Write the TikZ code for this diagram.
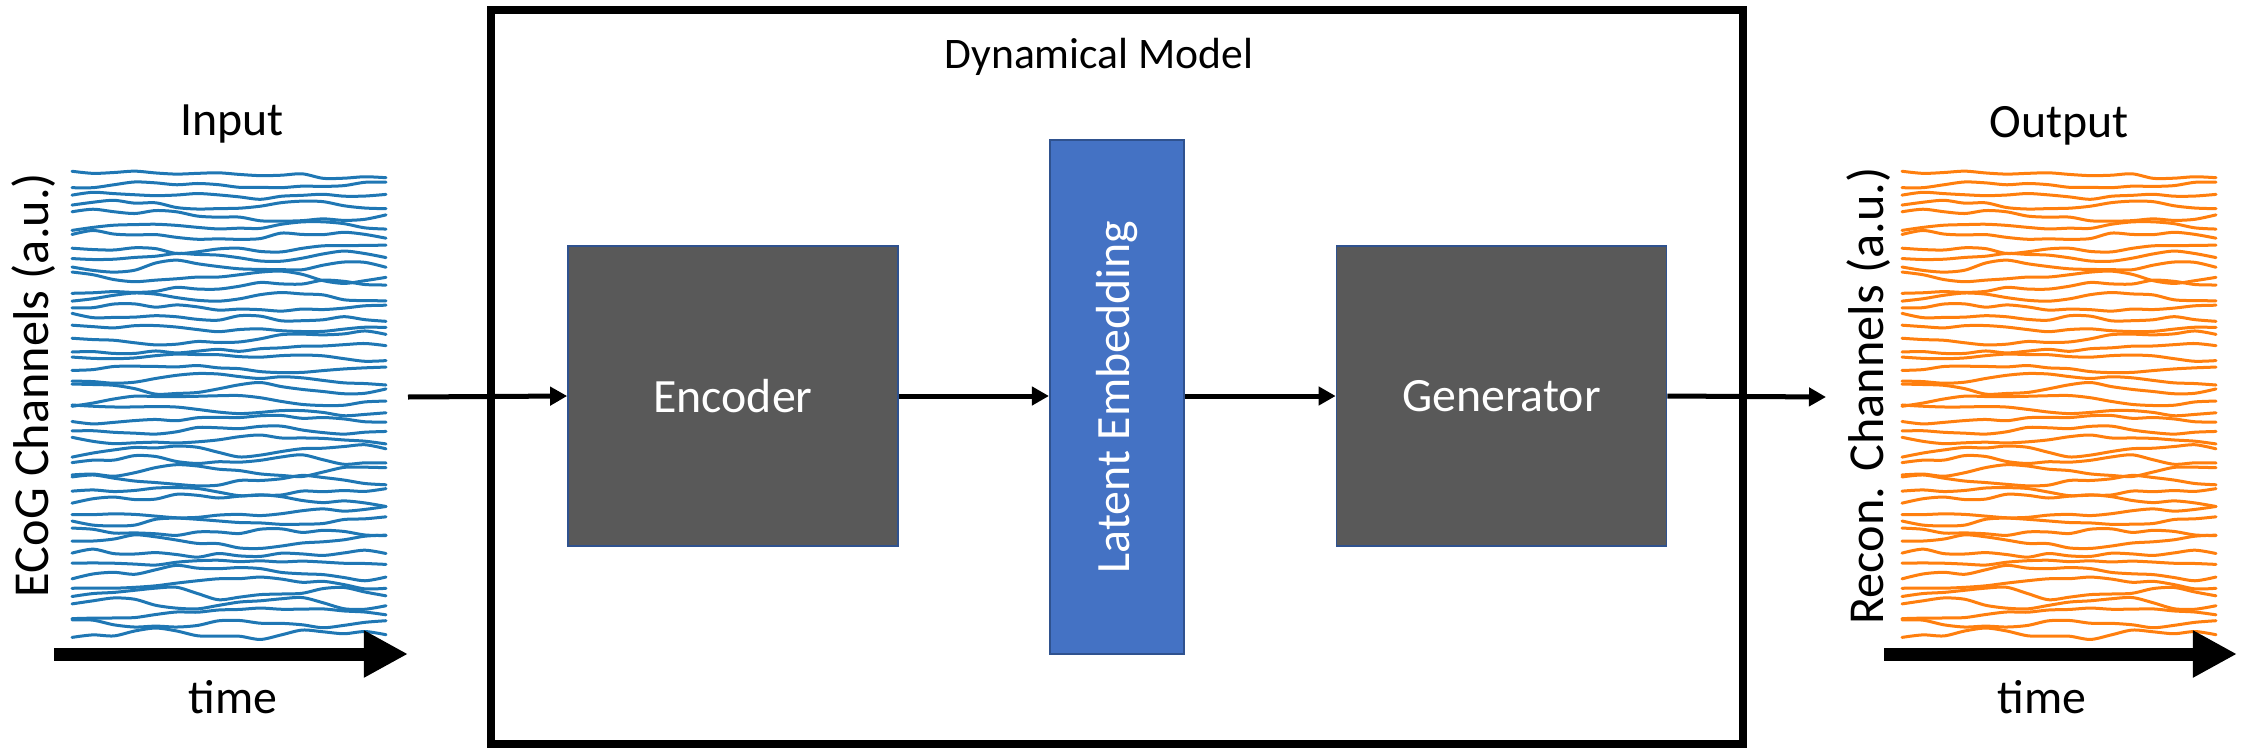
\documentclass[tikz,border=0pt]{standalone}
\usepackage{fontspec}
\setmainfont{Carlito}
\usetikzlibrary{arrows.meta}
\definecolor{ecogblue}{HTML}{1F77B4}
\definecolor{reconorange}{HTML}{FF7F0E}
\definecolor{boxgray}{HTML}{595959}
\definecolor{latentblue}{HTML}{4472C4}
\definecolor{edgeblue}{HTML}{2F528F}

% One panel of stacked channel traces: #1 left x, #2 right x, #3 colour
\newcommand\tracepanel[3]{%
  \pgfmathsetseed{11}%
  \foreach \i in {0,...,45} {
    \pgfmathsetmacro\yb{175+\i*10.2}
    \pgfmathsetmacro\pha{360*rnd}
    \pgfmathsetmacro\phb{360*rnd}
    \pgfmathsetmacro\ama{1.5+4.5*rnd}
    \pgfmathsetmacro\amb{0.5+1.8*rnd}
    \pgfmathsetmacro\fra{0.5+1.5*rnd}
    \pgfmathsetmacro\frb{2.5+2.5*rnd}
    \draw[trace, #3] plot[smooth, domain=#1:#2, samples=16]
      (\x, {\yb + \ama*sin(\fra*360*((\x-#1)/(#2-#1)) + \pha)
               + \amb*sin(\frb*360*((\x-#1)/(#2-#1)) + \phb) + 1.2*rand});
  }
}

\begin{document}
\begin{tikzpicture}[x=0.01cm, y=-0.01cm,
  txt/.style={font=\fontsize{13.6}{16}\selectfont},
  sidetxt/.style={font=\fontsize{14.3}{17}\selectfont, rotate=90},
  block/.style={draw=edgeblue, line width=0.015cm, fill=boxgray, text=white, txt,
    minimum width=3.3cm, minimum height=3cm, inner sep=0pt},
  latentbox/.style={draw=edgeblue, line width=0.02cm, fill=latentblue, text=white, txt,
    minimum width=1.34cm, minimum height=5.14cm, inner sep=0pt},
  link/.style={line width=0.05cm, -{Triangle[length=0.17cm,width=0.18cm]}},
  timearrow/.style={line width=0.13cm, -{Triangle[length=0.44cm,width=0.44cm]}},
  trace/.style={line width=0.03cm, line join=round, line cap=round},
]
\useasboundingbox (0,0) rectangle (2244,748);

% enclosing model frame
\node[draw, line width=0.08cm, minimum width=12.515cm, minimum height=7.34cm, inner sep=0pt]
  (dm) at (1116.75,377) {};
\node[font=\fontsize{12.4}{15}\selectfont] (dmlab) at (1099,57) {Dynamical Model};

% model blocks
\node[block] (enc) at (733,396) {Encoder};
\node[latentbox] (lat) at (1117,397) {\rotatebox{90}{Latent Embedding}};
\node[block] (gen) at (1501.5,396) {Generator};

% signal panels
\tracepanel{72}{386}{ecogblue}
\tracepanel{1902}{2216}{reconorange}

% panel labels
\node[txt] (inlab) at (232,124) {Input};
\node[txt] (outlab) at (2059,126) {Output};
\node[sidetxt] (ylabin) at (34,385) {ECoG Channels (a.u.)};
\node[sidetxt] (ylabout) at (1869,396) {Recon. Channels (a.u.)};
\node[txt] (timein) at (233,697) {time};
\node[txt] (timeout) at (2042,697) {time};

% time axes
\coordinate (tas) at (54,654);
\coordinate (tae) at (408,654);
\coordinate (tbs) at (1884,654);
\coordinate (tbe) at (2237,654);
\draw[timearrow] (tas) -- (tae);
\draw[timearrow] (tbs) -- (tbe);

% data flow
\coordinate (src) at (408,397);
\coordinate (dst) at (1826,397);
\draw[link] (src) -- (enc.west);
\draw[link] (enc.east) -- (lat.west |- enc.east);
\draw[link] (lat.east |- gen.west) -- (gen.west);
\draw[link] (gen.east) -- (dst);
\end{tikzpicture}
\end{document}
